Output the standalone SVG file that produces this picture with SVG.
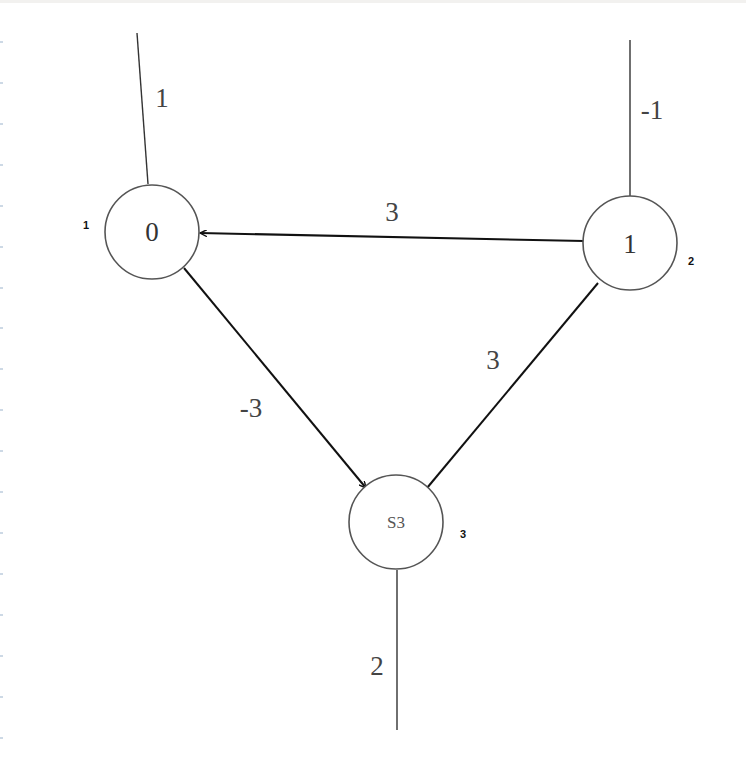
<svg xmlns="http://www.w3.org/2000/svg" width="746" height="759" viewBox="0 0 746 759">
<style>
.bg{fill:#fff}
.node circle{fill:#fff;stroke:#555;stroke-width:1.6}
.nl{font-family:"Liberation Serif","Times New Roman",serif;font-size:27px;fill:#333;text-anchor:middle}
.el{font-family:"Liberation Serif","Times New Roman",serif;font-size:27px;fill:#444;text-anchor:middle}
.idx{font-family:"Liberation Sans",Arial,sans-serif;font-size:11px;font-weight:bold;fill:#111;text-anchor:middle}
.e{stroke:#111;stroke-width:2;fill:none}
.t{stroke:#333;stroke-width:1.4;fill:none}
.tick{stroke:#9bb3cc;stroke-width:1}
</style>
<defs>
<marker id="ah" markerWidth="8" markerHeight="7" refX="7" refY="3.5" orient="auto" markerUnits="userSpaceOnUse">
<path d="M0,0 L7,3.5 L0,7" fill="none" stroke="#111" stroke-width="1.4"/>
</marker>
</defs>
<rect class="bg" x="0" y="0" width="746" height="759"/>
<rect x="0" y="0" width="746" height="3" fill="#f2f1ef"/>
<g id="ticks">
<path class="tick" d="M0,42h3M0,83h3M0,124h3M0,165h3M0,206h3M0,247h3M0,288h3M0,328h3M0,369h3M0,410h3M0,451h3M0,492h3M0,533h3M0,574h3M0,615h3M0,656h3M0,697h3M0,738h3"/>
</g>
<g id="connectors">
<line class="t" x1="137" y1="33" x2="148" y2="184"/>
<line class="t" x1="630" y1="40" x2="630" y2="196"/>
<line class="t" x1="397" y1="570" x2="397" y2="730"/>
<line class="e" x1="584" y1="241" x2="200" y2="233" marker-end="url(#ah)"/>
<line class="e" x1="184" y1="268" x2="366" y2="488" marker-end="url(#ah)"/>
<line class="e" x1="598" y1="283" x2="427" y2="488"/>
<text class="el" x="162" y="107">1</text>
<text class="el" x="652" y="119">-1</text>
<text class="el" x="392" y="221">3</text>
<text class="el" x="251" y="417">-3</text>
<text class="el" x="493" y="369">3</text>
<text class="el" x="377" y="675">2</text>
</g>
<g id="node0" class="node">
<circle cx="152" cy="232" r="47"/>
<text class="nl" x="152" y="241">0</text>
<text class="idx" x="86" y="229">1</text>
</g>
<g id="node1" class="node">
<circle cx="630" cy="243" r="47"/>
<text class="nl" x="630" y="253">1</text>
<text class="idx" x="691" y="265">2</text>
</g>
<g id="nodeS3" class="node">
<circle cx="396" cy="522" r="47"/>
<text x="396" y="528" style="font-family:'Liberation Serif','Times New Roman',serif;font-size:17px;fill:#555;text-anchor:middle">S3</text>
<text class="idx" x="463" y="538">3</text>
</g>
</svg>
